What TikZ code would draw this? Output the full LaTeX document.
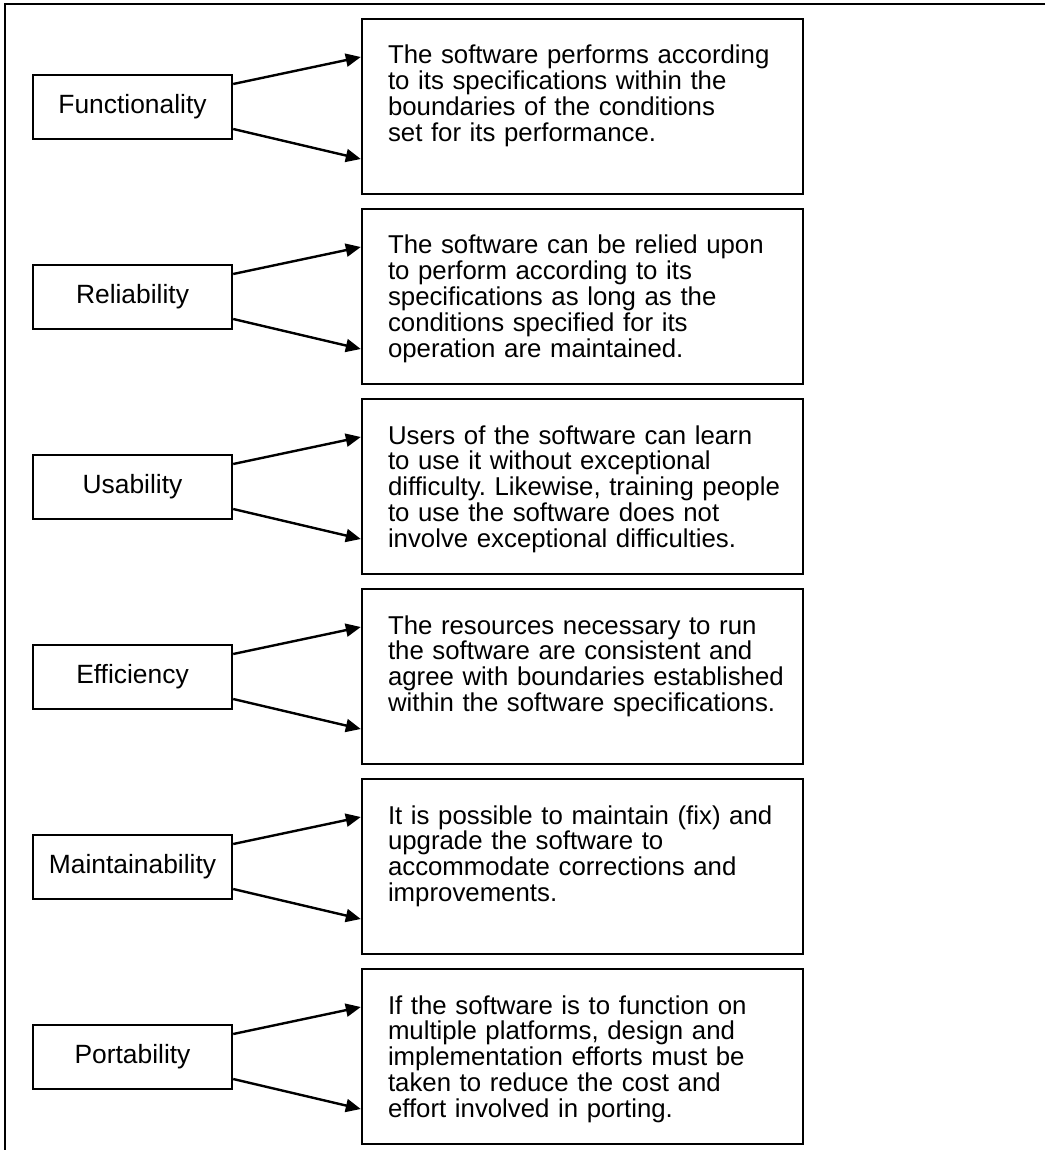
\documentclass[tikz,border=0pt]{standalone}
\usepackage{fontspec}
\setmainfont{Liberation Sans}
\usepackage{tikz}
\usetikzlibrary{arrows.meta}
\frenchspacing

\begin{document}
\begin{tikzpicture}[x=1pt,y=-1pt,
  qual/.style={draw,line width=2.4pt,minimum width=199pt,minimum height=64pt,
    inner sep=0pt,font=\fontsize{26.4}{26}\selectfont},
  desc/.style={draw,line width=2.4pt,text width=410pt,inner xsep=15.5pt,inner ysep=0pt,
    text height=45pt,text depth=130pt,align=left,font=\fontsize{25.8}{25.8}\selectfont,
    execute at begin node={\leftskip=10.5pt}},
  flow/.style={-{Triangle[length=15pt,width=13pt]},line width=2.4pt}]
  \useasboundingbox (0,0) rectangle (1045,1150);
  \draw[line width=2pt] (1045,4) -- (5,4) -- (5,1150);
  \node[qual] (func)  at (132.5,107)  {Functionality};
  \node[qual] (rel)   at (132.5,297)  {Reliability};
  \node[qual] (usab)  at (132.5,487)  {Usability};
  \node[qual] (eff)   at (132.5,677)  {Efficiency};
  \node[qual] (maint) at (132.5,867)  {Maintainability};
  \node[qual] (port)  at (132.5,1057) {Portability};
  \node[desc] (funcd)  at (582.5,106.5)  {The software performs according\\to its specifications within the\\boundaries of the conditions\\set for its performance.};
  \node[desc] (reld)   at (582.5,296.5)  {The software can be relied upon\\to perform according to its\\specifications as long as the\\conditions specified for its\\operation are maintained.};
  \node[desc] (usabd)  at (582.5,486.5)  {Users of the software can learn\\to use it without exceptional\\difficulty. Likewise, training people\\to use the software does not\\involve exceptional difficulties.};
  \node[desc] (effd)   at (582.5,676.5)  {The resources necessary to run\\the software are consistent and\\agree with boundaries established\\within the software specifications.};
  \node[desc] (maintd) at (582.5,866.5)  {It is possible to maintain (fix) and\\upgrade the software to\\accommodate corrections and\\improvements.};
  \node[desc] (portd)  at (582.5,1056.5) {If the software is to function on\\multiple platforms, design and\\implementation efforts must be\\taken to reduce the cost and\\effort involved in porting.};
  \draw[flow] ([yshift=23pt]func.east) -- ([yshift=49.5pt]funcd.west);
  \draw[flow] ([yshift=-22pt]func.east) -- ([yshift=-52.5pt]funcd.west);
  \draw[flow] ([yshift=23pt]rel.east) -- ([yshift=49.5pt]reld.west);
  \draw[flow] ([yshift=-22pt]rel.east) -- ([yshift=-52.5pt]reld.west);
  \draw[flow] ([yshift=23pt]usab.east) -- ([yshift=49.5pt]usabd.west);
  \draw[flow] ([yshift=-22pt]usab.east) -- ([yshift=-52.5pt]usabd.west);
  \draw[flow] ([yshift=23pt]eff.east) -- ([yshift=49.5pt]effd.west);
  \draw[flow] ([yshift=-22pt]eff.east) -- ([yshift=-52.5pt]effd.west);
  \draw[flow] ([yshift=23pt]maint.east) -- ([yshift=49.5pt]maintd.west);
  \draw[flow] ([yshift=-22pt]maint.east) -- ([yshift=-52.5pt]maintd.west);
  \draw[flow] ([yshift=23pt]port.east) -- ([yshift=49.5pt]portd.west);
  \draw[flow] ([yshift=-22pt]port.east) -- ([yshift=-52.5pt]portd.west);
\end{tikzpicture}
\end{document}
